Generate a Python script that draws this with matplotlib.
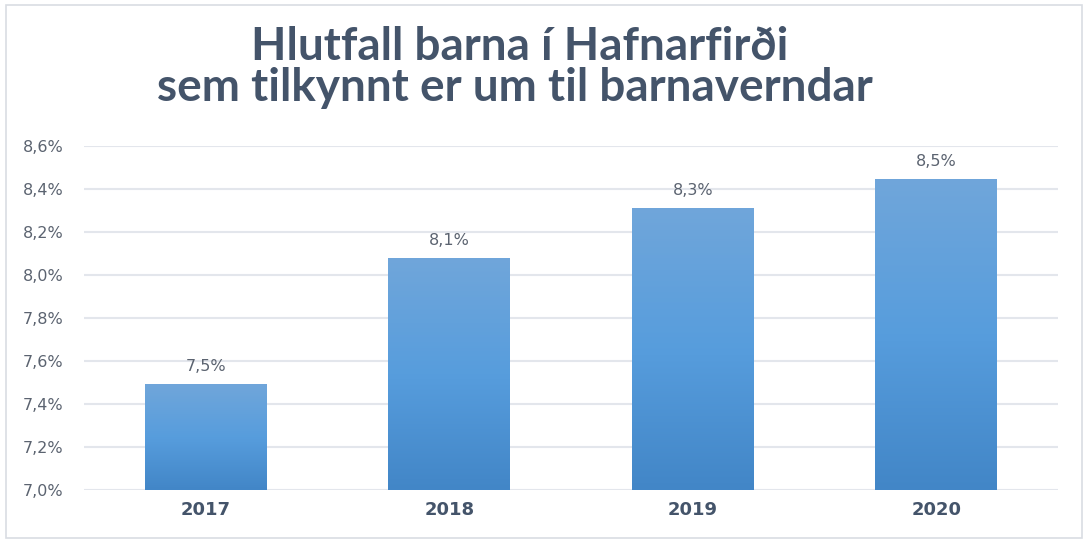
import numpy as np
import matplotlib.pyplot as plt
from matplotlib.patches import Rectangle
from matplotlib.colors import LinearSegmentedColormap

# data
years = ['2017', '2018', '2019', '2020']
values = [7.493, 8.079, 8.312, 8.447]
labels = ['7,5%', '8,1%', '8,3%', '8,5%']
yticks = [7.0, 7.2, 7.4, 7.6, 7.8, 8.0, 8.2, 8.4, 8.6]

title_color = '#44546a'
text_color = '#5b6370'
grid_color = '#e3e6ec'
tick_font = 'DejaVu Sans'

fig = plt.figure(figsize=(10.88, 5.41), dpi=100)
ax = fig.add_axes([0.0772, 0.0943, 0.8952, 0.6358])

# border round the whole chart
fig.patches.append(Rectangle((0.0055, 0.006), 0.989, 0.984, transform=fig.transFigure,
                             fill=False, edgecolor='#d9dde3', linewidth=1.2))

ymin, ymax = 7.0, 8.6
ax.set_xlim(-0.5, 3.5)
ax.set_ylim(ymin, ymax)

# gradient bars: lighter on top, darker at bottom
cmap = LinearSegmentedColormap.from_list('bar', ['#4286c7', '#579ddd', '#70a6da'])
grad = np.linspace(0, 1, 256).reshape(-1, 1)
bars = ax.bar(range(len(years)), [v - ymin for v in values], bottom=ymin, width=0.5,
              color='none', edgecolor='none', zorder=3)
for bar in bars:
    x0, y0 = bar.get_x(), bar.get_y()
    w, h = bar.get_width(), bar.get_height()
    im = ax.imshow(grad, cmap=cmap, origin='lower', aspect='auto',
                   extent=(x0, x0 + w, y0, y0 + h), zorder=3)
    im.set_clip_path(bar)

for i, (v, lab) in enumerate(zip(values, labels)):
    ax.text(i, v + 0.045, lab, ha='center', va='bottom', fontsize=11.5,
            color=text_color, family=tick_font)

ax.set_yticks(yticks)
ax.set_yticklabels([('%.1f' % t).replace('.', ',') + '%' for t in yticks])
ax.set_xticks(range(len(years)))
ax.set_xticklabels(years, fontsize=13, fontweight='bold', color=title_color, family=tick_font)
for t in ax.get_yticklabels():
    t.set_fontsize(11.5)
    t.set_color(text_color)
    t.set_family(tick_font)

ax.tick_params(length=0, pad=8)
ax.tick_params(axis='y', pad=15)
ax.grid(axis='y', color=grid_color, linewidth=1.5, zorder=0)
ax.set_axisbelow(True)
for s in ax.spines.values():
    s.set_visible(False)

fig.text(0.478, 1 - 60 / 541, 'Hlutfall barna í Hafnarfirði', ha='center', va='baseline',
         fontsize=33, fontweight='bold', color=title_color, family='Lato')
fig.text(0.473, 1 - 101 / 541, 'sem tilkynnt er um til barnaverndar', ha='center', va='baseline',
         fontsize=33, fontweight='bold', color=title_color, family='Lato')

fig.savefig('out.png', dpi=100)
